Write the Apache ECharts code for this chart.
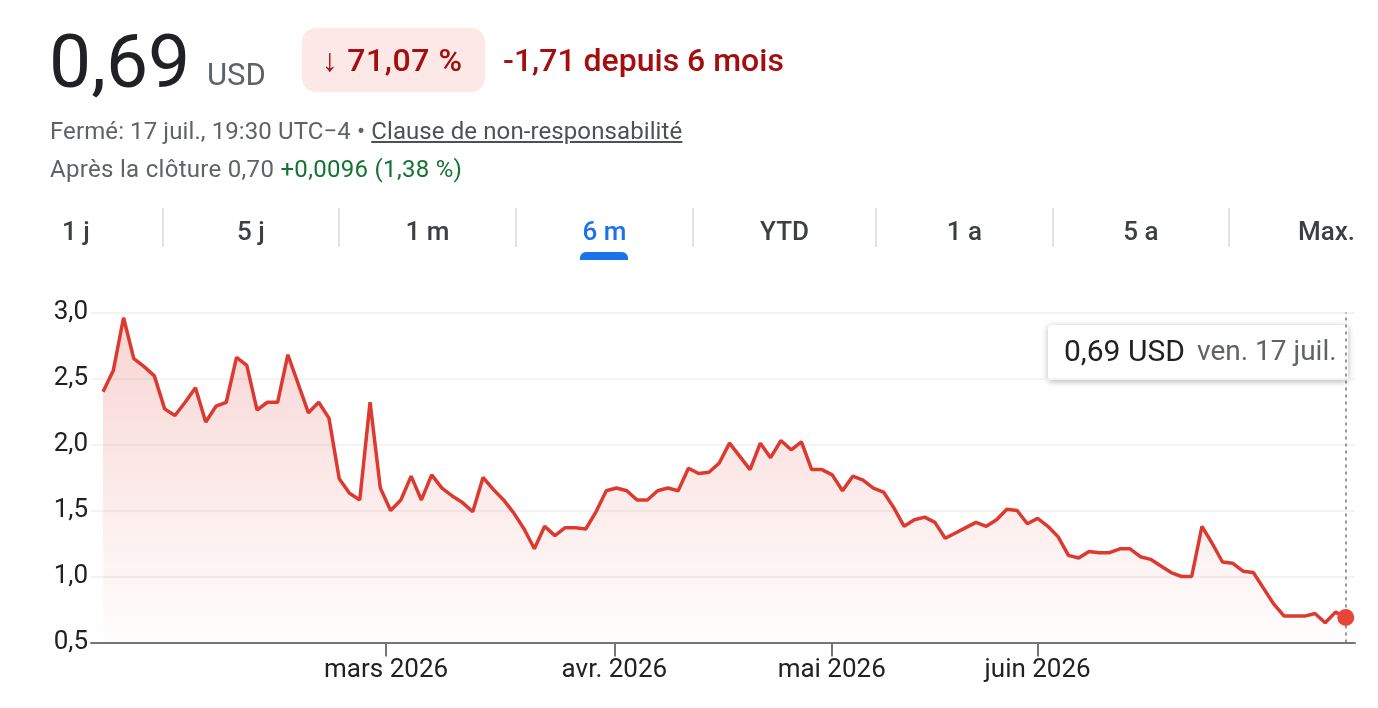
<!DOCTYPE html>
<html><head><meta charset="utf-8">
<script src="https://cdn.jsdelivr.net/npm/echarts@6/dist/echarts.min.js"></script>
<style>
html,body{margin:0;padding:0;background:#fff;width:1378px;height:708px;overflow:hidden;font-family:Roboto,"Noto Sans",Arial,sans-serif;}
#chart{position:absolute;left:0;top:0;width:1378px;height:708px;}
.t{position:absolute;white-space:nowrap;}
.tab{position:absolute;top:218px;font-size:26px;line-height:26px;font-weight:500;color:#3c4043;white-space:nowrap;}
.sep{position:absolute;top:208px;width:2px;height:39px;background:#e3e3e3;}
</style></head><body>
<div id="chart"></div>

<div class="t" style="left:49px;top:24px;font-size:75px;line-height:75px;color:#202124;">0,69</div>
<div class="t" style="left:207px;top:59px;font-size:31px;line-height:31px;color:#5f6368;">USD</div>
<div class="t" style="left:302px;top:28px;width:183px;height:64px;border-radius:14px;background:#fce8e6;"></div>
<div class="t" style="left:322px;top:44px;font-size:32px;line-height:32px;font-weight:500;color:#a50e0e;letter-spacing:0.6px;">↓ 71,07 %</div>
<div class="t" style="left:503px;top:44px;font-size:32px;line-height:32px;font-weight:500;color:#a50e0e;">-1,71 depuis 6 mois</div>
<div class="t" style="left:50px;top:119px;font-size:24px;line-height:24px;color:#5f6368;letter-spacing:0.1px;">Fermé: 17 juil., 19:30 UTC−4 • <span style="text-decoration:underline;color:#4d5156;">Clause de non-responsabilité</span></div>
<div class="t" style="left:50px;top:157px;font-size:24px;line-height:24px;color:#5f6368;letter-spacing:0.3px;">Après la clôture 0,70 <span style="color:#137333;">+0,0096 (1,38 %)</span></div>

<div class="tab" style="left:62px;">1 j</div>
<div class="sep" style="left:162px;"></div>
<div class="tab" style="left:163px;width:176px;text-align:center;">5 j</div>
<div class="sep" style="left:338px;"></div>
<div class="tab" style="left:339px;width:177px;text-align:center;">1 m</div>
<div class="sep" style="left:515px;"></div>
<div class="tab" style="left:516px;width:177px;text-align:center;color:#1a73e8;">6 m</div>
<div class="sep" style="left:692px;"></div>
<div class="tab" style="left:693px;width:183px;text-align:center;">YTD</div>
<div class="sep" style="left:875px;"></div>
<div class="tab" style="left:876px;width:177px;text-align:center;">1 a</div>
<div class="sep" style="left:1052px;"></div>
<div class="tab" style="left:1053px;width:176px;text-align:center;">5 a</div>
<div class="sep" style="left:1228px;"></div>
<div class="tab" style="right:23px;">Max.</div>
<div class="t" style="left:580px;top:252px;width:48px;height:8px;background:#1a73e8;border-radius:6px 6px 0 0;"></div>

<script>
// Closing prices (USD), one per trading session
const prices = [
  2.40, 2.56, 2.96, 2.65, 2.59, 2.52, 2.27, 2.22, 2.32, 2.43,
  2.17, 2.29, 2.32, 2.66, 2.60, 2.26, 2.32, 2.32, 2.68, 2.46,
  2.24, 2.32, 2.20, 1.74, 1.63, 1.58, 2.32, 1.67, 1.50, 1.58,
  1.76, 1.58, 1.77, 1.67, 1.61, 1.56, 1.49, 1.75, 1.66, 1.58,
  1.48, 1.36, 1.21, 1.38, 1.31, 1.37, 1.37, 1.36, 1.49, 1.65,
  1.67, 1.65, 1.58, 1.58, 1.65, 1.67, 1.65, 1.82, 1.78, 1.79,
  1.86, 2.01, 1.91, 1.81, 2.01, 1.90, 2.03, 1.96, 2.02, 1.81,
  1.81, 1.77, 1.65, 1.76, 1.73, 1.67, 1.64, 1.52, 1.38, 1.43,
  1.45, 1.41, 1.29, 1.33, 1.37, 1.41, 1.38, 1.43, 1.51, 1.50,
  1.40, 1.44, 1.38, 1.30, 1.16, 1.14, 1.19, 1.18, 1.18, 1.21,
  1.21, 1.15, 1.13, 1.08, 1.03, 1.00, 1.00, 1.38, 1.25, 1.11,
  1.10, 1.04, 1.03, 0.91, 0.79, 0.70, 0.70, 0.70, 0.72, 0.65,
  0.73, 0.69
];
// Month tick positions (in session index units) and their labels
const monthTickPos = [27.56, 49.79, 70.95, 91.0];
const monthTickLabels = ['mars 2026', 'avr. 2026', 'mai 2026', 'juin 2026'];
// Y axis
const yMin = 0.5, yMax = 3.0, yStep = 0.5;
const lastDateLabel = 'ven. 17 juil.';

const lastIdx = prices.length - 1;
const lastPrice = prices[lastIdx];
const fr = (v, d) => v.toFixed(d).replace('.', ',');

const chart = echarts.init(document.getElementById('chart'), null, {renderer: 'canvas'});
chart.setOption({
  animation: false,
  grid: {left: 91, right: 23, top: 312.5, bottom: 65.5, containLabel: false},
  xAxis: {
    type: 'value',
    min: -1.17,
    max: 121.9,
    axisLine: {show: true, onZero: false, lineStyle: {color: '#757575', width: 2}},
    axisTick: {show: true, customValues: monthTickPos, length: 14, lineStyle: {color: '#757575', width: 2}},
    axisLabel: {
      customValues: monthTickPos,
      margin: 15,
      fontSize: 26,
      fontFamily: 'Roboto',
      color: '#202124',
      formatter: function (v) {
        const i = monthTickPos.findIndex(p => Math.abs(p - v) < 0.01);
        return i >= 0 ? monthTickLabels[i] : '';
      }
    },
    splitLine: {show: false}
  },
  yAxis: {
    type: 'value',
    min: yMin, max: yMax, interval: yStep,
    axisLine: {show: false},
    axisTick: {show: false},
    axisLabel: {
      margin: 3,
      fontSize: 26,
      fontFamily: 'Roboto',
      color: '#202124',
      formatter: v => fr(v, 1)
    },
    splitLine: {lineStyle: {color: '#efefef', width: 1.5}}
  },
  series: [
    {
      type: 'line',
      data: prices.map((v, i) => [i, v]),
      showSymbol: false,
      lineStyle: {color: '#dc3a30', width: 3.5},
      areaStyle: {
        origin: 'start',
        color: new echarts.graphic.LinearGradient(0, 0, 0, 1, [
          {offset: 0, color: 'rgba(220,58,48,0.30)'},
          {offset: 1, color: 'rgba(220,58,48,0.01)'}
        ])
      },
      markLine: {
        silent: true,
        symbol: ['none', 'none'],
        label: {show: false},
        lineStyle: {color: '#757575', type: [3, 4], width: 1.5},
        data: [{xAxis: lastIdx}]
      },
      z: 2
    },
    {
      type: 'scatter',
      data: [[lastIdx, lastPrice]],
      symbolSize: 17,
      itemStyle: {color: '#e8453c', opacity: 1},
      z: 5
    }
  ],
  graphic: [
    {
      type: 'group',
      x: 1048, y: 325,
      z: 100,
      children: [
        {type: 'rect', shape: {x: 0, y: 0, width: 300, height: 55, r: 4},
         style: {fill: '#ffffff', shadowBlur: 6, shadowColor: 'rgba(0,0,0,0.3)', shadowOffsetY: 1.5}},
        {type: 'text', x: 16, y: 28,
         style: {text: fr(lastPrice, 2) + ' USD', font: '30px Roboto', fill: '#202124', verticalAlign: 'middle'}},
        {type: 'text', x: 149, y: 28,
         style: {text: lastDateLabel, font: '28px Roboto', fill: '#5f6368', verticalAlign: 'middle'}}
      ]
    }
  ]
});
</script>
</body></html>
